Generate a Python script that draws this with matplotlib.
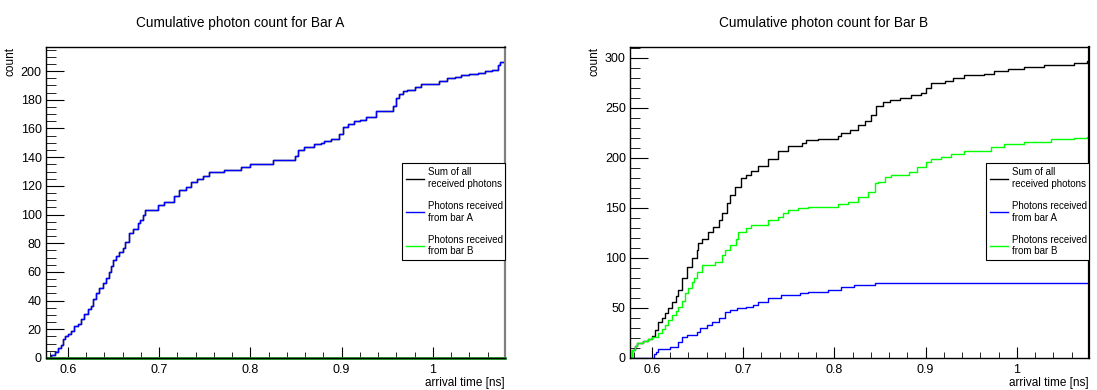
import numpy as np
import matplotlib
matplotlib.use('Agg')
import matplotlib.pyplot as plt
from matplotlib.lines import Line2D
from matplotlib.ticker import MultipleLocator

plt.rcParams['font.family'] = ['Liberation Sans', 'DejaVu Sans']

# bar A panel: photons from bar A (sum is identical), bar B stays at zero
a_time = [0.577, 0.580, 0.582, 0.586, 0.589, 0.592, 0.5945, 0.597, 0.600, 0.603,
          0.607, 0.611, 0.6146, 0.618, 0.622, 0.625, 0.627, 0.631, 0.6346, 0.638,
          0.642, 0.645, 0.6474, 0.650, 0.653, 0.656, 0.660, 0.663, 0.6675, 0.671,
          0.6767, 0.679, 0.682, 0.684, 0.6986, 0.705, 0.7168, 0.722, 0.729, 0.735,
          0.742, 0.748, 0.755, 0.7715, 0.790, 0.800, 0.8245, 0.849, 0.852, 0.859,
          0.870, 0.877, 0.881, 0.888, 0.897, 0.901, 0.907, 0.914, 0.920, 0.927,
          0.938, 0.956, 0.960, 0.963, 0.967, 0.972, 0.980, 0.987, 1.007, 1.016,
          1.024, 1.031, 1.040, 1.049, 1.057, 1.065, 1.071, 1.074]
a_from_a = [0, 1, 2, 4, 7, 9, 13, 15, 17, 19,
            22, 24, 27, 31, 34, 36, 41, 45, 49, 52,
            56, 60, 64, 68, 71, 74, 77, 81, 87, 90,
            94, 96, 100, 103, 107, 109, 113, 117, 119, 123,
            125, 127, 130, 131, 133, 135, 138, 141, 145, 147,
            149, 150, 151, 153, 156, 161, 163, 165, 166, 168,
            172, 176, 181, 184, 186, 187, 189, 191, 193, 195,
            196, 197, 198, 199, 200, 201, 204, 206]
a_b_time = [0.577]
a_from_b = [0]

# bar B panel
b_sum_time = [0.5745, 0.578, 0.581, 0.584, 0.590, 0.596, 0.600, 0.603, 0.607, 0.611,
              0.6146, 0.618, 0.622, 0.626, 0.629, 0.633, 0.638, 0.6437, 0.649, 0.651,
              0.6547, 0.662, 0.667, 0.673, 0.677, 0.682, 0.686, 0.691, 0.698, 0.703,
              0.709, 0.7166, 0.7275, 0.7385, 0.749, 0.764, 0.769, 0.782, 0.804, 0.8077,
              0.817, 0.826, 0.833, 0.840, 0.846, 0.853, 0.8605, 0.8715, 0.884, 0.895,
              0.9005, 0.906, 0.9207, 0.9297, 0.9425, 0.9644, 0.975, 0.990, 1.008, 1.030,
              1.063, 1.077]
b_sum = [0, 8, 12, 15, 17, 19, 22, 28, 36, 40,
         45, 50, 56, 62, 68, 80, 91, 100, 108, 115,
         119, 126, 131, 138, 145, 155, 163, 171, 180, 183,
         187, 192, 199, 207, 212, 215, 218, 219, 222, 225,
         228, 233, 237, 243, 252, 256, 258, 260, 263, 265,
         270, 275, 277, 280, 283, 284, 287, 289, 291, 293,
         295, 297]
b_a_time = [0.5745, 0.602, 0.605, 0.607, 0.620, 0.629, 0.633, 0.638, 0.649, 0.653,
            0.660, 0.666, 0.673, 0.680, 0.686, 0.693, 0.703, 0.711, 0.7166, 0.7275,
            0.742, 0.762, 0.771, 0.793, 0.8077, 0.822, 0.844]
b_from_a = [0, 4, 6, 9, 11, 16, 21, 23, 26, 30,
            33, 36, 40, 46, 48, 50, 51, 53, 56, 60,
            63, 65, 66, 68, 71, 73, 75]
b_b_time = [0.5745, 0.578, 0.581, 0.584, 0.590, 0.596, 0.600, 0.607, 0.611, 0.6146,
            0.618, 0.622, 0.626, 0.629, 0.633, 0.6365, 0.640, 0.6437, 0.646, 0.649,
            0.6547, 0.669, 0.6765, 0.680, 0.6855, 0.6918, 0.6947, 0.703, 0.709, 0.7275,
            0.7385, 0.744, 0.749, 0.760, 0.771, 0.804, 0.815, 0.826, 0.837, 0.844,
            0.848, 0.855, 0.862, 0.882, 0.890, 0.900, 0.906, 0.917, 0.928, 0.9425,
            0.9716, 0.986, 1.008, 1.037, 1.063, 1.077]
b_from_b = [0, 8, 12, 15, 17, 19, 21, 25, 29, 33,
            38, 43, 47, 51, 57, 65, 70, 76, 80, 86,
            93, 96, 103, 108, 113, 119, 126, 130, 133, 138,
            141, 145, 148, 150, 151, 154, 156, 161, 166, 175,
            176, 181, 183, 186, 191, 196, 199, 201, 204, 207,
            211, 214, 216, 219, 220, 221]

XMIN, XMAX = 0.576, 1.079
labels = ['Sum of all\nreceived photons', 'Photons received\nfrom bar A',
          'Photons received\nfrom bar B']
colors = ['black', 'blue', '#00ff00']


def draw_step(ax, t, y, **kw):
    t = np.append(t, XMAX)
    y = np.append(y, y[-1])
    ax.step(t, y, where='post', **kw)


def style_axes(ax, ymax, ymajor, yminor, right_color):
    ax.set_xlim(XMIN, XMAX)
    ax.set_ylim(0, ymax)
    ax.xaxis.set_major_locator(MultipleLocator(0.1))
    ax.xaxis.set_minor_locator(MultipleLocator(0.02))
    ax.yaxis.set_major_locator(MultipleLocator(ymajor))
    ax.yaxis.set_minor_locator(MultipleLocator(yminor))
    ax.xaxis.set_major_formatter(plt.FuncFormatter(lambda v, p: '%g' % round(v, 2)))
    ax.tick_params(which='both', direction='in', labelsize=9, pad=3)
    ax.tick_params(axis='x', which='major', length=8)
    ax.tick_params(axis='x', which='minor', length=4)
    ax.tick_params(axis='y', which='major', length=13)
    ax.tick_params(axis='y', which='minor', length=7)
    ax.tick_params(axis='x', pad=4)
    for s in ax.spines.values():
        s.set_linewidth(1.0)
    ax.spines['right'].set_color(right_color)
    ax.spines['right'].set_linewidth(1.6)
    ax.set_xlabel('arrival time [ns]', fontsize=8.5, loc='right', labelpad=1)
    ax.set_ylabel('count', fontsize=8.5, loc='top', labelpad=3)
    handles = [Line2D([], [], color=c, lw=1.0) for c in colors]
    leg = ax.legend(handles, labels, loc='upper left',
                    bbox_to_anchor=(0.775, 0.0, 0.225, 0.626),
                    mode='expand', fontsize=7, handlelength=1.85, handletextpad=0.5,
                    labelspacing=1.25, borderpad=0.4, fancybox=False, framealpha=1,
                    edgecolor='black', borderaxespad=0)
    leg.get_frame().set_linewidth(0.8)


fig = plt.figure(figsize=(10.97, 3.9), dpi=100)
ax1 = fig.add_axes([0.0419, 0.0821, 0.4184, 0.797])
ax2 = fig.add_axes([0.5743, 0.0821, 0.4184, 0.797])

# Bar A
draw_step(ax1, a_time, a_from_a, color='black', lw=1.0)
draw_step(ax1, a_time, a_from_a, color='blue', lw=1.0)
draw_step(ax1, a_b_time, a_from_b, color='#1fa01f', lw=2.0, clip_on=False)
style_axes(ax1, 216.7, 20, 5, '#808080')

# Bar B
draw_step(ax2, b_sum_time, b_sum, color='black', lw=1.0)
draw_step(ax2, b_a_time, b_from_a, color='blue', lw=1.0)
draw_step(ax2, b_b_time, b_from_b, color='#00ff00', lw=1.0)
style_axes(ax2, 310.7, 50, 10, 'black')

fig.text(0.219, 0.94, 'Cumulative photon count for Bar A', ha='center', va='center', fontsize=9.8)
fig.text(0.751, 0.94, 'Cumulative photon count for Bar B', ha='center', va='center', fontsize=9.8)

fig.savefig('out.png', dpi=100)
